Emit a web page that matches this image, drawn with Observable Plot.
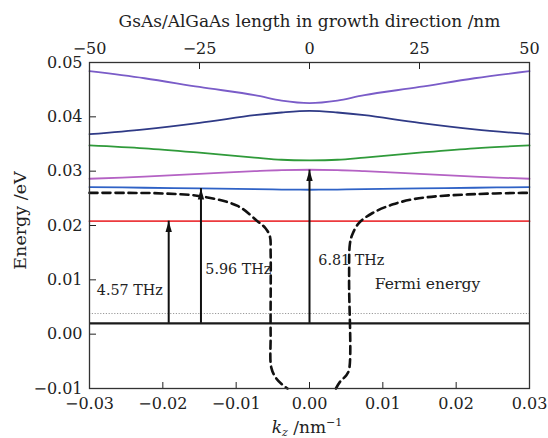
<!DOCTYPE html>
<html><head><meta charset="utf-8">
<script src="https://cdn.jsdelivr.net/npm/d3@7"></script>
<script src="https://cdn.jsdelivr.net/npm/@observablehq/plot@0.6"></script>
<style>body{margin:0;background:#fff}</style>
</head><body><div id="chart"></div>
<script>
// ---- data ----
const bandK    = [-0.03, -0.0225, -0.015, -0.0075, -0.0038, 0, 0.0038, 0.0075, 0.015, 0.0225, 0.03];
const band6    = [0.0484, 0.0471, 0.0455, 0.0440, 0.0430, 0.04254, 0.0430, 0.0440, 0.0455, 0.0471, 0.0484]; // purple
const band5    = [0.0368, 0.0377, 0.0389, 0.0403, 0.0408, 0.0411, 0.0408, 0.0403, 0.0389, 0.0377, 0.0368];   // navy
const band4    = [0.03475, 0.0342, 0.0334, 0.0325, 0.0321, 0.0320, 0.0321, 0.0325, 0.0334, 0.0342, 0.03475]; // green
const band3    = [0.0286, 0.0290, 0.0295, 0.0300, 0.0302, 0.03026, 0.0302, 0.0300, 0.0295, 0.0290, 0.0286]; // magenta
const band2    = [0.02707, 0.02695, 0.02683, 0.0267, 0.02662, 0.02658, 0.02662, 0.0267, 0.02683, 0.02695, 0.02707]; // blue
const band1    = [0.0208, 0.0208, 0.0208, 0.0208, 0.0208, 0.0208, 0.0208, 0.0208, 0.0208, 0.0208, 0.0208]; // red
const bandNames  = ["band6", "band5", "band4", "band3", "band2", "band1"];
const bandColors = ["#7a5cc8", "#2f3a86", "#2f9a3a", "#b462c4", "#2f62c6", "#ec3a3e"];

const groundE = 0.002;   // solid black level
const fermiE  = 0.0038;  // dotted Fermi level

const dashLeftK  = [-0.03, -0.025, -0.02, -0.0149, -0.0098, -0.0071, -0.0060, -0.0054, -0.0053, -0.0053, -0.0052, -0.0045, -0.0037, -0.0030];
const dashLeftE  = [0.0260, 0.0260, 0.0259, 0.0254, 0.0236, 0.0208, 0.0195, 0.0180, 0.0150, 0.0000, -0.0062, -0.0082, -0.0093, -0.0100];
const dashRightK = [0.0036, 0.0042, 0.0050, 0.0054, 0.0054, 0.0055, 0.0058, 0.0067, 0.0086, 0.0114, 0.0144, 0.0176, 0.0230, 0.0290, 0.030];
const dashRightE = [-0.0100, -0.0087, -0.0076, -0.0065, 0.0100, 0.0165, 0.0182, 0.0204, 0.0223, 0.0239, 0.0249, 0.0254, 0.0258, 0.0260, 0.0260];

const arrowK   = [-0.0192, -0.0148, 0];
const arrowTop = [0.0208, 0.0268, 0.0302];

const labelText = ["4.57 THz", "5.96 THz", "6.81 THz", "Fermi energy"];
const labelK    = [-0.0290, -0.0142, 0.0012, 0.0089];
const labelE    = [0.0081, 0.0120, 0.0136, 0.0092];
const labelSize = [14.3, 14.3, 14.3, 15.5];

const xTicks   = [-0.03, -0.02, -0.01, 0, 0.01, 0.02, 0.03];
const yTicks   = [-0.01, 0, 0.01, 0.02, 0.03, 0.04, 0.05];
const topTicks = [-50, -25, 0, 25, 50];   // nm
const nmPerK   = 50 / 0.03;

const topTitle = "GsAs/AlGaAs length in growth direction /nm";
const yTitle   = "Energy /eV";

// ---- tables ----
const bandSeries = [band6, band5, band4, band3, band2, band1];
const bands = bandSeries.flatMap((s, i) => s.map((e, j) => ({k: bandK[j], e, band: bandNames[i]})));
const dashed = [
  ...dashLeftK.map((k, i) => ({k, e: dashLeftE[i], side: "L"})),
  ...dashRightK.map((k, i) => ({k, e: dashRightE[i], side: "R"}))
];
const arrows = arrowK.map((k, i) => ({k, top: arrowTop[i]}));
const labels = labelText.map((t, i) => ({t, k: labelK[i], e: labelE[i], s: labelSize[i]}));

const arrowHead = {
  draw(ctx, size) {
    const r = Math.sqrt(size / Math.PI);
    ctx.moveTo(0, 0);
    ctx.lineTo(-r, 3.4 * r);
    ctx.lineTo(r, 3.4 * r);
    ctx.closePath();
  }
};

const fmt2 = d3.format(".2f");
const fmt0 = d3.format("d");
const FONT = "DejaVu Serif";

const chart = Plot.plot({
  width: 548, height: 438,
  marginTop: 62, marginBottom: 50, marginLeft: 89, marginRight: 19,
  style: {fontFamily: FONT, fontSize: "16px", background: "#fff", color: "#222"},
  x: {domain: [-0.03, 0.03]},
  y: {domain: [-0.01, 0.05]},
  color: {domain: bandNames, range: bandColors},
  marks: [
    Plot.ruleY([fermiE], {stroke: "#9a9a9a", strokeWidth: 1, strokeDasharray: "1.2,1.6"}),
    Plot.ruleY([groundE], {stroke: "#1a1a1a", strokeWidth: 2.2}),
    Plot.line(bands, {x: "k", y: "e", z: "band", stroke: "band", strokeWidth: 1.8, curve: "catmull-rom"}),
    Plot.line(dashed, {x: "k", y: "e", z: "side", stroke: "#111", strokeWidth: 2.6, strokeDasharray: "8,5", curve: "catmull-rom"}),
    Plot.ruleX(arrows, {x: "k", y1: groundE, y2: "top", stroke: "#111", strokeWidth: 2}),
    Plot.dot(arrows, {x: "k", y: "top", symbol: arrowHead, r: 3.2, fill: "#111", stroke: null}),
    ...labels.map(l => Plot.text([l], {x: "k", y: "e", text: "t", textAnchor: "start", fontSize: l.s, fill: "#222"})),
    Plot.axisX({anchor: "bottom", ticks: xTicks, tickSize: -6, tickPadding: 15, tickFormat: fmt2, label: null, fontSize: 16}),
    Plot.axisX({anchor: "top", ticks: topTicks.map(n => n / nmPerK), tickSize: -6, tickPadding: 15,
      tickFormat: d => fmt0(Math.round(d * nmPerK)), label: null, fontSize: 16}),
    Plot.axisY({anchor: "left", ticks: yTicks, tickSize: -7, tickPadding: 14, tickFormat: fmt2, label: null, fontSize: 16}),
    Plot.frame({stroke: "#333", strokeWidth: 1.3}),
    Plot.text([topTitle], {frameAnchor: "top", dy: -41, text: d => d, fontSize: 17, lineAnchor: "middle", fill: "#222"}),
    Plot.text([yTitle], {frameAnchor: "left", dx: -69, dy: -5, rotate: -90, text: d => d, fontSize: 17.5,
      textAnchor: "middle", lineAnchor: "middle", fill: "#222"})
  ]
});
document.getElementById("chart").appendChild(chart);

// x-axis label with italic k, subscript z and superscript −1
const xs = chart.scale("x");
const lab = d3.select(chart).append("text")
  .attr("x", xs.apply(0) - 2).attr("y", 433)
  .attr("text-anchor", "middle")
  .attr("font-family", FONT).attr("font-size", 17).attr("fill", "#222");
lab.append("tspan").attr("font-style", "italic").text("k");
lab.append("tspan").attr("font-style", "italic").attr("font-size", 11).attr("dy", 3).text("z");
lab.append("tspan").attr("dy", -3).text(" /nm");
lab.append("tspan").attr("font-size", 11).attr("dy", -7).text("−1");
</script>
</body></html>
